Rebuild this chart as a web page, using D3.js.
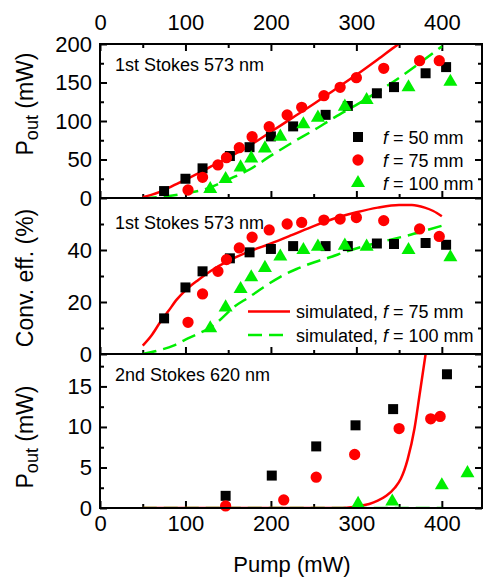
<!DOCTYPE html>
<html><head><meta charset="utf-8">
<script src="https://cdn.jsdelivr.net/npm/d3@7"></script>
<style>
body{margin:0;background:#fff}
text{font-family:"Liberation Sans",Arial,sans-serif;fill:#000}
</style></head>
<body><svg id="c" width="484" height="578"></svg>
<script>
// ---------- data ----------
const xTicks = [0,100,200,300,400];
const xMinor = [50,150,250,350];

// f = 50 mm (black squares)
const f50X      = [75,100,120,152,175,200,226,264,290,324,344,381,405];
const f50Pout   = [9,25,38.5,54.5,66,80,93,108,119.5,136,144,162,170];
const f50Eff    = [13.7,25.6,31.8,36.8,39.1,40.4,41.5,41.5,41.5,42.5,42.3,42.7,42];
// f = 75 mm (red circles)
const f75X      = [103,120,138,148,163,178,198,219,236,262,281,300,332,374,397];
const f75Pout   = [10.4,26.8,42.9,52.4,65.4,79.6,92.6,107.8,117.8,132.9,143.8,156.3,168.4,178.3,178.3];
const f75Eff    = [12.2,23.1,31.8,36.3,40.8,44.9,47.7,50,50.6,51.5,51.9,52.5,51.3,48.1,45.2];
// f = 100 mm (green triangles)
const f100X     = [129,147,164.5,177,193,211,238,255,286.5,312,361,410];
const f100Pout  = [11.7,24.7,39.8,51.5,64.5,79.6,95.7,104.3,118.6,127.3,143.8,151];
const f100Eff   = [9.9,17.9,25,29.5,33.1,37.5,40,41.3,41.7,41.3,40,37.2];

// 2nd Stokes
const s2f50X  = [147,201,253,299,343,406];
const s2f50Y  = [1.5,4,7.6,10.2,12.2,16.5];
const s2f75X  = [147,215,253,298,350,387,398];
const s2f75Y  = [0.25,1.0,3.8,6.6,9.8,11.0,11.3];
const s2f100X = [302,342,400,430];
const s2f100Y = [0.5,0.8,2.8,4.3];

// simulations
const simP75X   = [50,60,70,80,90,100,115,130,150,175,200,225,250,275,300,325,350,360];
const simP75Y   = [1,4,8,13,18.5,24,32,41,52.5,68,86,104,122,141,160,180,200.5,208];
const simP100X  = [50,75,100,125,150,175,200,225,250,275,300,325,350,375,400];
const simP100Y  = [0,2,6,12,24,37,55,72,88,105,121,138,156,176,197];
const simE75X   = [50,60,70,80,90,100,115,130,150,175,200,225,250,275,300,325,350,365,380,390,400];
const simE75Y   = [3.2,7,12,16.5,21,24.5,28.5,32,35.8,39.5,42.5,45.8,49.2,52.2,54.5,56.3,57.3,57.3,56.3,55,53];
const simE100X  = [50,70,86,100,115,129,140,156,175,191,210,230,250,269,290,312,335,359,380,400];
const simE100Y  = [0,1.5,3.2,5.5,7.8,10.2,13,17.9,22,25.6,29.5,32.7,35.2,37.2,39.6,41.7,43.6,45.5,47.4,49.3];
const sim2X75   = [50,280,300,315,325,335,345,352,360,368,374,381,385];
const sim2Y75   = [0,0,0.2,0.5,0.9,1.5,2.5,3.6,6.0,9.8,14.0,19,22];
const sim2X100  = [50,400];
const sim2Y100  = [0,0];

// ---------- layout ----------
const svg = d3.select("#c");
const L = 100, R = 482;
const x = d3.scaleLinear().domain([0,447]).range([L,R]);
const panels = [
  {top:44,  bot:198, dom:[0,200], ticks:[0,50,100,150,200], minor:[25,75,125,175]},
  {top:198, bot:354, dom:[0,60],  ticks:[0,20,40],          minor:[10,30,50]},
  {top:354, bot:508, dom:[0,19],  ticks:[0,5,10,15],        minor:[2.5,7.5,12.5,17.5]}
];
panels.forEach((p,i)=>{ p.y = d3.scaleLinear().domain(p.dom).range([p.bot,p.top]); p.i=i;
  svg.append("clipPath").attr("id","clip"+i).append("rect")
    .attr("x",L).attr("y",p.top).attr("width",R-L).attr("height",p.bot-p.top);
});

const RED = "#ff0000", GREEN = "#00ee00";

function styleAxis(g){
  g.select(".domain").remove();
  g.selectAll(".tick line").attr("stroke","#000").attr("stroke-width",2);
  g.selectAll("text").style("font-size","22px").attr("font-family","Liberation Sans, Arial, sans-serif").attr("fill","#000");
}

panels.forEach(p=>{
  svg.append("g").attr("transform",`translate(${L},0)`)
    .call(d3.axisLeft(p.y).tickValues(p.ticks).tickSize(-7).tickPadding(8).tickFormat(d3.format("d")))
    .call(styleAxis);
  svg.append("g").attr("transform",`translate(${L},0)`)
    .call(d3.axisLeft(p.y).tickValues(p.minor).tickSize(-4).tickFormat("")).call(styleAxis);
  svg.append("g").attr("transform",`translate(${R},0)`)
    .call(d3.axisRight(p.y).tickValues(p.ticks).tickSize(-7).tickFormat("")).call(styleAxis);
  svg.append("g").attr("transform",`translate(${R},0)`)
    .call(d3.axisRight(p.y).tickValues(p.minor).tickSize(-4).tickFormat("")).call(styleAxis);
  svg.append("g").attr("transform",`translate(0,${p.bot})`)
    .call(d3.axisBottom(x).tickValues(xTicks).tickSize(-7).tickPadding(7.5).tickFormat(p.i===2?d3.format("d"):""))
    .call(styleAxis);
  svg.append("g").attr("transform",`translate(0,${p.bot})`)
    .call(d3.axisBottom(x).tickValues(xMinor).tickSize(-4).tickFormat("")).call(styleAxis);
});
svg.append("g").attr("transform",`translate(0,${panels[0].top})`)
  .call(d3.axisTop(x).tickValues(xTicks).tickSize(-7).tickPadding(14).tickFormat(d3.format("d"))).call(styleAxis);
svg.append("g").attr("transform",`translate(0,${panels[0].top})`)
  .call(d3.axisTop(x).tickValues(xMinor).tickSize(-4).tickFormat("")).call(styleAxis);

// ---------- curves ----------
function curve(p, xs, ys, color, dashed){
  const line = d3.line().x(d=>x(d[0])).y(d=>p.y(d[1])).curve(d3.curveMonotoneX);
  svg.append("path").datum(xs.map((v,k)=>[v,ys[k]]))
    .attr("clip-path",`url(#clip${p.i})`)
    .attr("d",line).attr("fill","none").attr("stroke",color).attr("stroke-width",2.5)
    .attr("stroke-dasharray",dashed?"14,7":null);
}
curve(panels[0], simP100X, simP100Y, GREEN, true);
curve(panels[0], simP75X, simP75Y, RED, false);
curve(panels[1], simE100X, simE100Y, GREEN, true);
curve(panels[1], simE75X, simE75Y, RED, false);
curve(panels[2], sim2X100, sim2Y100, GREEN, true);
curve(panels[2], sim2X75, sim2Y75, RED, false);

// ---------- markers ----------
const symSq = d3.symbol().type(d3.symbolSquare).size(100);
const symCi = d3.symbol().type(d3.symbolCircle).size(100);
const symTr = d3.symbol().type(d3.symbolTriangle).size(85);
function markers(p, xs, ys, sym, color){
  svg.append("g").selectAll("path").data(xs.map((v,k)=>[v,ys[k]])).join("path")
    .attr("transform",d=>`translate(${x(d[0])},${p.y(d[1])})`)
    .attr("d",sym).attr("fill",color);
}
markers(panels[0], f50X, f50Pout, symSq, "#000");
markers(panels[0], f75X, f75Pout, symCi, RED);
markers(panels[0], f100X, f100Pout, symTr, GREEN);
markers(panels[1], f50X, f50Eff, symSq, "#000");
markers(panels[1], f75X, f75Eff, symCi, RED);
markers(panels[1], f100X, f100Eff, symTr, GREEN);
markers(panels[2], s2f50X, s2f50Y, symSq, "#000");
markers(panels[2], s2f75X, s2f75Y, symCi, RED);
markers(panels[2], s2f100X, s2f100Y, symTr, GREEN);

// ---------- frames ----------
panels.forEach(p=>{
  svg.append("rect").attr("x",L).attr("y",p.top).attr("width",R-L).attr("height",p.bot-p.top)
    .attr("fill","none").attr("stroke","#000").attr("stroke-width",2);
});

// ---------- annotations ----------
const notes = [["1st Stokes 573 nm",71],["1st Stokes 573 nm",229],["2nd Stokes 620 nm",381]];
notes.forEach(n=>svg.append("text").attr("x",115).attr("y",n[1]).style("font-size","18px").text(n[0]));

// legend (top panel)
const legItems = [[symSq,"#000","50"],[symCi,RED,"75"],[symTr,GREEN,"100"]];
const legY = [137,160,183];
legItems.forEach((it,k)=>{
  svg.append("path").attr("transform",`translate(358,${legY[k]})`).attr("d",it[0]).attr("fill",it[1]);
  const t = svg.append("text").attr("x",383).attr("y",legY[k]+6.5).style("font-size","18px");
  t.append("tspan").style("font-style","italic").text("f");
  t.append("tspan").text(` = ${it[2]} mm`);
});
// legend (middle panel)
const simLeg = [[RED,false,"75",311.5],[GREEN,true,"100",335]];
simLeg.forEach(s=>{
  svg.append("line").attr("x1",248).attr("x2",290).attr("y1",s[3]).attr("y2",s[3])
    .attr("stroke",s[0]).attr("stroke-width",2.5).attr("stroke-dasharray",s[1]?"14,7":null);
  const t = svg.append("text").attr("x",296).attr("y",s[3]+6.5).style("font-size","18px");
  t.append("tspan").text("simulated, ");
  t.append("tspan").style("font-style","italic").text("f");
  t.append("tspan").text(` = ${s[2]} mm`);
});

// axis titles
function pout(cy){
  const t = svg.append("text").attr("transform",`translate(33,${cy}) rotate(-90)`)
    .attr("text-anchor","middle").style("font-size","23px");
  t.append("tspan").text("P");
  t.append("tspan").attr("dy",5).style("font-size","18px").text("out");
  t.append("tspan").attr("dy",-5).text(" (mW)");
}
pout(104);
pout(437);
svg.append("text").attr("transform","translate(33,278) rotate(-90)")
  .attr("text-anchor","middle").style("font-size","23px").text("Conv. eff. (%)");
svg.append("text").attr("x",292).attr("y",572).attr("text-anchor","middle")
  .style("font-size","22px").text("Pump (mW)");
</script></body></html>
